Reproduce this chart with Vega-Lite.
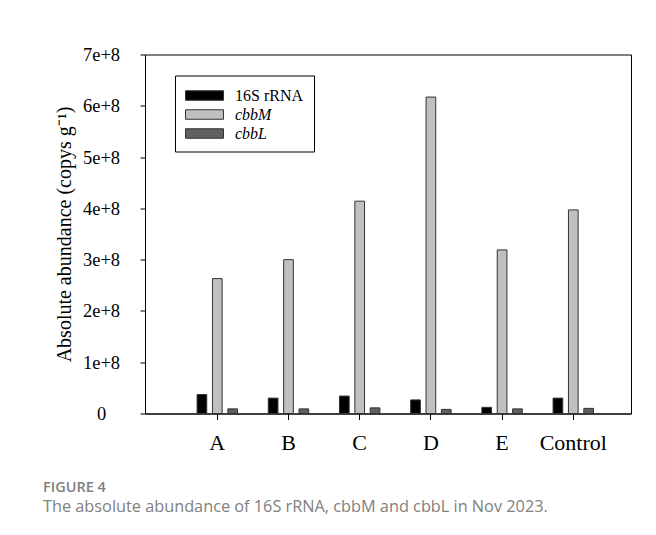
{
  "$schema": "https://vega.github.io/schema/vega-lite/v6.json",
  "width": 486,
  "height": 359,
  "autosize": {"type": "none"},
  "padding": {"left": 145, "top": 54.5, "right": 25, "bottom": 121.5},
  "background": "white",
  "title": {
    "text": "FIGURE 4",
    "subtitle": "The absolute abundance of 16S rRNA, cbbM and cbbL in Nov 2023.",
    "orient": "bottom",
    "anchor": "start",
    "frame": "group",
    "dx": -102,
    "offset": 27,
    "font": "Open Sans",
    "fontSize": 14.5,
    "fontWeight": 600,
    "color": "#808080",
    "subtitleFont": "Open Sans",
    "subtitleFontSize": 16.3,
    "subtitleColor": "#808080",
    "subtitlePadding": 4
  },
  "data": {
    "values": [
      {"site": "A", "gene": "16S rRNA", "abundance": 37000000},
      {"site": "A", "gene": "cbbM", "abundance": 263000000},
      {"site": "A", "gene": "cbbL", "abundance": 9000000},
      {"site": "B", "gene": "16S rRNA", "abundance": 30000000},
      {"site": "B", "gene": "cbbM", "abundance": 300000000},
      {"site": "B", "gene": "cbbL", "abundance": 9000000},
      {"site": "C", "gene": "16S rRNA", "abundance": 34000000},
      {"site": "C", "gene": "cbbM", "abundance": 414000000},
      {"site": "C", "gene": "cbbL", "abundance": 11000000},
      {"site": "D", "gene": "16S rRNA", "abundance": 26500000},
      {"site": "D", "gene": "cbbM", "abundance": 617000000},
      {"site": "D", "gene": "cbbL", "abundance": 8000000},
      {"site": "E", "gene": "16S rRNA", "abundance": 12000000},
      {"site": "E", "gene": "cbbM", "abundance": 319000000},
      {"site": "E", "gene": "cbbL", "abundance": 9000000},
      {"site": "Control", "gene": "16S rRNA", "abundance": 30000000},
      {"site": "Control", "gene": "cbbM", "abundance": 397000000},
      {"site": "Control", "gene": "cbbL", "abundance": 10000000}
    ]
  },
  "mark": {"type": "bar", "stroke": "#333333", "strokeWidth": 1},
  "encoding": {
    "x": {
      "field": "site",
      "type": "nominal",
      "sort": ["A", "B", "C", "D", "E", "Control"],
      "scale": {"paddingInner": 0, "paddingOuter": 0.413, "align": 0.624},
      "axis": {
        "title": null,
        "labelAngle": 0,
        "labelFont": "Liberation Serif",
        "labelFontSize": 22,
        "labelColor": "black",
        "labelPadding": 13,
        "tickSize": 6,
        "tickColor": "black",
        "domainColor": "black",
        "grid": false
      }
    },
    "xOffset": {
      "field": "gene",
      "type": "nominal",
      "sort": ["16S rRNA", "cbbM", "cbbL"],
      "scale": {"paddingInner": 0.37, "paddingOuter": 1.175}
    },
    "y": {
      "field": "abundance",
      "type": "quantitative",
      "scale": {"domain": [0, 700000000], "nice": false},
      "axis": {
        "title": "Absolute abundance (copys g⁻¹)",
        "titleFont": "Liberation Serif",
        "titleFontSize": 20,
        "titleFontWeight": "normal",
        "titleColor": "black",
        "titlePadding": 8,
        "values": [0, 100000000, 200000000, 300000000, 400000000, 500000000, 600000000, 700000000],
        "labelExpr": "datum.value == 0 ? '0' : format(datum.value / 100000000, 'd') + 'e+8'",
        "labelFont": "Liberation Serif",
        "labelFontSize": 18.5,
        "labelColor": "black",
        "labelAlign": "center",
        "labelBaseline": "middle",
        "labelPadding": 39,
        "tickSize": 5,
        "tickColor": "black",
        "domainColor": "black",
        "grid": false
      }
    },
    "color": {
      "field": "gene",
      "type": "nominal",
      "scale": {"domain": ["16S rRNA", "cbbM", "cbbL"], "range": ["#000000", "#c0c0c0", "#606060"]},
      "legend": {
        "title": null,
        "orient": "none",
        "legendX": 30,
        "legendY": 21,
        "padding": 10,
        "strokeColor": "black",
        "fillColor": "white",
        "symbolType": "M-2,-0.5H2V0.5H-2Z",
        "symbolSize": 361,
        "symbolOffset": 9.5,
        "symbolStrokeColor": "#333333",
        "symbolStrokeWidth": 1,
        "symbolOpacity": 1,
        "labelFont": "Liberation Serif",
        "labelFontSize": 16,
        "labelColor": "black",
        "labelOffset": 20.5,
        "rowPadding": 1,
        "encoding": {
          "labels": {
            "fontStyle": {"condition": {"test": "datum.label === '16S rRNA'", "value": "normal"}, "value": "italic"}
          }
        }
      }
    }
  },
  "config": {
    "view": {"stroke": "black", "strokeWidth": 1},
    "axis": {"domainWidth": 1, "tickWidth": 1}
  }
}
